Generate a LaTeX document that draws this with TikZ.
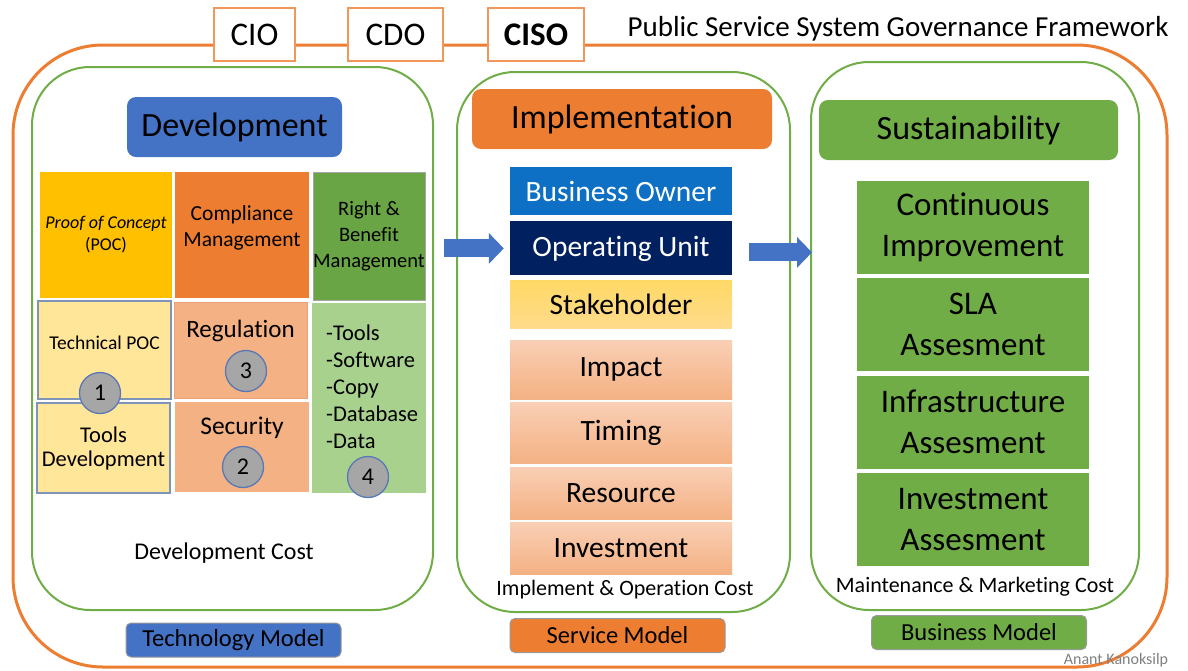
\documentclass[tikz,border=0pt]{standalone}
\usepackage{fontspec}
\setmainfont{Carlito}[Ligatures=NoCommon]
\usetikzlibrary{arrows.meta,positioning}

\definecolor{orng}{HTML}{ED7D31}
\definecolor{grn}{HTML}{70AD47}
\definecolor{grndark}{HTML}{69A545}
\definecolor{blu}{HTML}{4472C4}
\definecolor{bizblue}{HTML}{0E70C4}
\definecolor{navy}{HTML}{002060}
\definecolor{yel}{HTML}{FFC000}
\definecolor{ltyel}{HTML}{FFE699}
\definecolor{salm}{HTML}{F4B183}
\definecolor{salmtop}{HTML}{F9CFB5}
\definecolor{salmline}{HTML}{E8A27A}
\definecolor{ltgrn}{HTML}{A9D18E}
\definecolor{slate}{HTML}{7F95B8}
\definecolor{badgefill}{HTML}{A6A6A6}
\definecolor{badgeline}{HTML}{5A78B4}
\definecolor{shtop}{HTML}{FFD966}
\definecolor{shmid}{HTML}{FFE7A8}
\definecolor{shbot}{HTML}{FFDB8C}

\begin{document}
\begin{tikzpicture}[
  x=1pt, y=-1pt,
  frame/.style={draw=orng, line width=3pt, rounded corners=90pt, minimum width=1154pt, minimum height=622pt},
  role/.style={draw=orng!80, fill=white, line width=1.2pt, minimum height=53pt, font=\fontsize{33}{36}\selectfont},
  panel/.style={draw=grn, line width=2pt, rounded corners=58pt},
  header/.style={rounded corners=9pt, minimum height=60pt, font=\fontsize{34}{38}\selectfont},
  cell/.style={inner sep=0pt, align=center},
  badge/.style={circle, draw=badgeline, fill=badgefill, line width=1.3pt, minimum size=41pt, inner sep=0pt, font=\fontsize{24}{24}\selectfont},
  stack/.style={inner sep=0pt, minimum width=222pt, font=\fontsize{29.5}{32}\selectfont},
  salmbox/.style={stack, top color=salmtop, bottom color=salm},
  susbox/.style={fill=grn, inner sep=0pt, minimum width=232pt, minimum height=93pt, align=center, font=\fontsize{33}{41}\selectfont},
  cost/.style={font=\fontsize{22}{24}\selectfont},
  model/.style={rounded corners=5pt, draw=black!40, line width=1pt, minimum width=215pt, minimum height=34pt, font=\fontsize{24.5}{26}\selectfont},
  bigarrow/.style={draw=blu, line width=18pt, -{Triangle[length=15pt,width=30pt]}}
]
\useasboundingbox (0,0) rectangle (1188,670);

% Outer frame and roles
\node[frame] (frame) at (590,356) {};
\node[role, minimum width=81pt] (cio) at (254.5,34.5) {CIO};
\node[role, minimum width=95pt] (cdo) at (395.5,34.5) {CDO};
\node[role, minimum width=96pt, font=\fontsize{33}{36}\selectfont\bfseries] (ciso) at (536,34.5) {CISO};
\node[font=\fontsize{29}{32}\selectfont] (title) at (898,29) {Public Service System Governance Framework};

% Panels
\node[panel, minimum width=401pt, minimum height=543pt] (devpanel) at (232.5,338.5) {};
\node[panel, minimum width=333pt, minimum height=540pt] (implpanel) at (623.5,342) {};
\node[panel, minimum width=328pt, minimum height=548pt] (suspanel) at (975,336) {};

% Headers
\node[header, fill=blu, minimum width=215pt] (dev) at (234.5,127) {Development};
\node[header, fill=orng, minimum width=300pt] (impl) at (622,119) {Implementation};
\node[header, fill=grn, minimum width=299pt] (sus) at (968.5,130) {Sustainability};

% Development grid
\node[cell, fill=yel, minimum width=132pt, minimum height=126pt, font=\fontsize{18}{22}\selectfont] (poc) at (106,235) {{\itshape Proof of Concept}\\(POC)};
\node[cell, fill=orng, minimum width=134pt, minimum height=126pt] (comp) at (242,235) {};
\node[cell, font=\fontsize{21.5}{26}\selectfont] (comptxt) at (242,228) {Compliance\\Management};
\node[cell, fill=grndark, draw=gray!70, line width=0.8pt, minimum width=112pt, minimum height=128pt, font=\fontsize{20.5}{26}\selectfont] (rb) at (369,236) {Right \&\\Benefit\\Management};
\node[cell, fill=ltyel, draw=slate, line width=1.2pt, minimum width=133pt, minimum height=98pt] (tpoc) at (104.5,350) {};
\node[cell, font=\fontsize{19.5}{22}\selectfont] (tpoctxt) at (104.5,343) {Technical POC};
\node[cell, fill=ltyel, draw=slate, line width=1.2pt, minimum width=133pt, minimum height=90pt, font=\fontsize{22.5}{24}\selectfont] (tdev) at (103.5,448) {Tools\\Development};
\node[cell, fill=salm, draw=salmline, line width=1pt, minimum width=133pt, minimum height=96pt] (reg) at (240.5,350) {};
\node[cell, font=\fontsize{25}{26}\selectfont] (regtxt) at (240.5,331) {Regulation};
\node[cell, fill=salm, minimum width=134pt, minimum height=90pt] (sec) at (242,447) {};
\node[cell, font=\fontsize{25.5}{26}\selectfont] (sectxt) at (242,428) {Security};
\node[cell, fill=ltgrn, minimum width=114pt, minimum height=190pt] (lst) at (369,398) {};
\node[cell, align=left, anchor=west, font=\fontsize{22.5}{27}\selectfont] (lsttxt) at (326,387) {-Tools\\-Software\\-Copy\\-Database\\-Data};
\node[badge] (b1) at (100,393) {1};
\node[badge] (b3) at (246,371) {3};
\node[badge] (b2) at (243,467) {2};
\node[badge] (b4) at (368,477) {4};
\node[font=\fontsize{24}{26}\selectfont] (devcost) at (224,553) {Development Cost};

% Implementation stack
\node[stack, fill=bizblue, text=white, minimum height=48pt] (bo) at (621,191) {Business Owner};
\node[stack, fill=navy, text=white, minimum height=54pt, below=6pt of bo] (ou) {Operating Unit};
\node[stack, top color=shtop, middle color=shmid, bottom color=shbot, minimum height=48pt, below=5pt of ou] (sh) {Stakeholder};
\node[salmbox, minimum height=59pt, below=11pt of sh] (imp) {Impact};
\node[salmbox, minimum height=61pt, below=3pt of imp] (tim) {Timing};
\node[salmbox, minimum height=52pt, below=3pt of tim] (res) {Resource};
\node[salmbox, minimum height=52pt, below=3pt of res] (inv) {Investment};
\node[cost] (implcost) at (625,590) {Implement \& Operation Cost};

% Sustainability stack
\node[susbox] (ci) at (973,227.5) {Continuous\\Improvement};
\node[susbox, below=4pt of ci] (sla) {SLA\\Assesment};
\node[susbox, below=4pt of sla] (infra) {Infrastructure\\Assesment};
\node[susbox, below=4pt of infra] (invas) {Investment\\Assesment};
\node[cost] (suscost) at (975,587) {Maintenance \& Marketing Cost};

% Models
\node[model, fill=blu] (techm) at (233.5,640) {Technology Model};
\node[model, fill=orng] (servm) at (617.5,635.5) {Service Model};
\node[model, fill=grn] (bizm) at (979,632.5) {Business Model};
\node[text=gray, font=\fontsize{16}{16}\selectfont] (credit) at (1116,660) {Anant Kanoksilp};

% Flow arrows
\draw[bigarrow] ([xshift=10pt]devpanel.east |- ou.west) -- ([xshift=-6pt]ou.west);
\draw[bigarrow] ([xshift=17pt,yshift=-4pt]ou.east) -- ([xshift=2pt,yshift=-4pt]suspanel.west |- ou.east);
\end{tikzpicture}
\end{document}
